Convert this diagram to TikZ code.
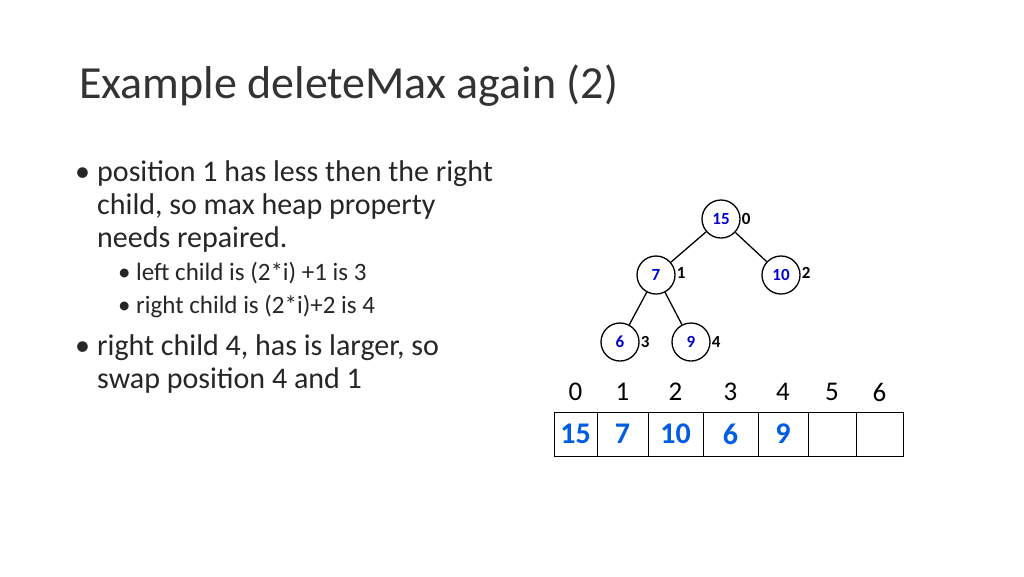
\documentclass[tikz,border=0pt]{standalone}
\usepackage{fontspec}
\setmainfont{Carlito}
\begin{document}
\begin{tikzpicture}[x=1pt,y=-1pt,
  hn/.style={circle,draw,line width=1.3pt,minimum size=38pt,inner sep=0pt,text=blue!80!black,font=\fontsize{17}{17}\selectfont\bfseries},
  idx/.style={font=\fontsize{17}{17}\selectfont\bfseries,anchor=west,inner sep=1pt},
  cell/.style={draw,line width=1pt,minimum height=44pt,inner sep=0pt,text=blue!60!cyan!90!black,font=\fontsize{30}{30}\selectfont\bfseries},
  hd/.style={font=\fontsize{27}{27}\selectfont},
  bt/.style={anchor=base west,inner sep=0pt,font=\fontsize{30}{33}\selectfont,text=black!85},
  st/.style={anchor=base west,inner sep=0pt,font=\fontsize{25}{33}\selectfont,text=black!85}]
\useasboundingbox (0,0) rectangle (1024,576);
\node[anchor=west,inner sep=0pt,font=\fontsize{46}{46}\selectfont,text=black!80] (title) at (79,86) {Example deleteMax again (2)};
\node[bt] (b1d) at (75,181) {•};
\node[bt] (b1a) at (97,181) {position 1 has less then the right};
\node[bt] (b1b) at (97,214) {child, so max heap property};
\node[bt] (b1c) at (97,247) {needs repaired.};
\node[st] (s1d) at (118,280) {•};
\node[st] (s1) at (136,280) {left child is (2*i) +1 is 3};
\node[st] (s2d) at (118,313) {•};
\node[st] (s2) at (136,313) {right child is (2*i)+2 is 4};
\node[bt] (b2d) at (75,355) {•};
\node[bt] (b2a) at (97,355) {right child 4, has is larger, so};
\node[bt] (b2b) at (97,388) {swap position 4 and 1};
\node[hn] (n0) at (721,219) {15};
\node[hn] (n1) at (656,275) {7};
\node[hn] (n2) at (781,275) {10};
\node[hn] (n3) at (620,342) {6};
\node[hn] (n4) at (691,342) {9};
\draw[line width=1.3pt] (n0)--(n1) (n0)--(n2) (n1)--(n3) (n1)--(n4);
\node[idx] (l0) at (n0.east) {0};
\node[idx] (l1) at ([yshift=2]n1.east) {1};
\node[idx] (l2) at ([yshift=2]n2.east) {2};
\node[idx] (l3) at (n3.east) {3};
\node[idx] (l4) at (n4.east) {4};
\foreach \a/\b/\v/\i [count=\k] in {554/597/15/0,597/648/7/1,648/703/10/2,703/758/6/3,758/808/9/4,808/856//5,856/903//6}{
  \node[cell,minimum width={\b-\a}] (c\k) at ({(\a+\b)/2},434) {\v};
  \node[hd] (h\k) at ({(\a+\b)/2},392) {\i};
}
\end{tikzpicture}
\end{document}
